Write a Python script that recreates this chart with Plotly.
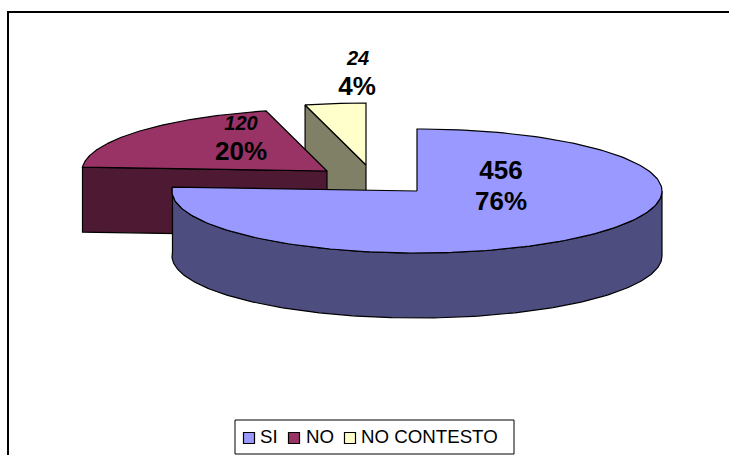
import numpy as np
import plotly.graph_objects as go

categories = ["SI", "NO", "NO CONTESTO"]
values = [456, 120, 24]
percent_labels = ["76%", "20%", "4%"]
top_colors = ["#9999FF", "#993366", "#FFFFCC"]
side_colors = ["#4D4D80", "#4D1933", "#808066"]
# where each exploded slice's apex sits in the picture (px)
apex_x = [417, 327, 366]
apex_y = [191, 171, 165]
value_label_pos = [(501, 172), (241, 125), (358, 60)]
pct_label_pos = [(501, 203), (241, 153), (357, 88)]
legend_swatch_x = [249, 294, 350]
legend_text_x = [260, 306, 361]
LEGEND_Y = 438

RX, RY, DEPTH = 245, 62, 65
W, H = 729, 455

total = sum(values)
starts = np.cumsum([0] + values[:-1]) / total * 360.0
ends = np.cumsum(values) / total * 360.0


def rim(cx, cy, a0, a1, n=200):
    t = np.radians(np.linspace(a0, a1, n))
    return cx + RX * np.sin(t), cy - RY * np.cos(t)


fig = go.Figure()


def poly(x, y, color):
    fig.add_trace(go.Scatter(
        x=list(x) + [x[0]], y=list(y) + [y[0]], mode="lines", fill="toself",
        fillcolor=color, line=dict(color="#000000", width=1.2),
        hoverinfo="skip", showlegend=False))


# painter's order: back slices first
for i in [2, 1, 0]:
    cx, cy = apex_x[i], apex_y[i]
    a0, a1 = starts[i], ends[i]
    if i == 2:
        ex, ey = rim(cx, cy, a0, a0, 1)
        poly([cx, ex[0], ex[0], cx], [cy, ey[0], ey[0] + DEPTH, cy + DEPTH], side_colors[i])
    if i == 1:
        ex, ey = rim(cx, cy, a0, a0, 1)
        poly([ex[0], cx, cx, ex[0]], [ey[0], cy, cy + DEPTH, ey[0] + DEPTH], side_colors[i])
    if i == 0:
        rx, ry = rim(cx, cy, 90, a1)
        poly(list(rx) + list(rx[::-1]), list(ry) + list(ry[::-1] + DEPTH), side_colors[i])
    tx, ty = rim(cx, cy, a0, a1)
    poly([cx] + list(tx), [cy] + list(ty), top_colors[i])

# value and percent labels
for i in range(3):
    big = i == 0
    fig.add_trace(go.Scatter(
        x=[value_label_pos[i][0]], y=[value_label_pos[i][1]], mode="text",
        text=[f"<b>{values[i]}</b>" if big else f"<b><i>{values[i]}</i></b>"],
        textfont=dict(family="Liberation Sans", size=26 if big else 20, color="#000000"),
        textposition="middle center", hoverinfo="skip", showlegend=False))
    fig.add_trace(go.Scatter(
        x=[pct_label_pos[i][0]], y=[pct_label_pos[i][1]], mode="text",
        text=[f"<b>{percent_labels[i]}</b>"],
        textfont=dict(family="Liberation Sans", size=26, color="#000000"),
        textposition="middle center", hoverinfo="skip", showlegend=False))

# legend: boxed swatches and names
fig.add_shape(type="rect", x0=235, x1=514, y0=420, y1=454, xref="x", yref="y",
              line=dict(color="#000000", width=1), fillcolor="#FFFFFF", layer="below")
for i in range(3):
    fig.add_trace(go.Scatter(
        x=[legend_swatch_x[i]], y=[LEGEND_Y], mode="markers", name=categories[i],
        marker=dict(symbol="square", size=11, color=top_colors[i],
                    line=dict(color="#000000", width=1.2)),
        hoverinfo="name", showlegend=False))
    fig.add_trace(go.Scatter(
        x=[legend_text_x[i]], y=[LEGEND_Y], mode="text", text=[categories[i]],
        textposition="middle right",
        textfont=dict(family="Liberation Sans", size=18.7, color="#000000"),
        hoverinfo="skip", showlegend=False))

# chart frame (right and bottom sides fall outside the picture)
fig.add_shape(type="rect", x0=8, x1=760, y0=12, y1=480, xref="x", yref="y",
              line=dict(color="#000000", width=2), layer="below")

fig.update_layout(
    width=W, height=H, margin=dict(l=0, r=0, t=0, b=0, autoexpand=False),
    paper_bgcolor="#FFFFFF", plot_bgcolor="#FFFFFF",
    xaxis=dict(range=[0, W], visible=False, fixedrange=True),
    yaxis=dict(range=[H, 0], visible=False, fixedrange=True),
    showlegend=False,
)
fig.write_html("out.html", config={"displayModeBar": False},
               post_script="document.body.style.margin='0';document.body.style.overflow='hidden';")
